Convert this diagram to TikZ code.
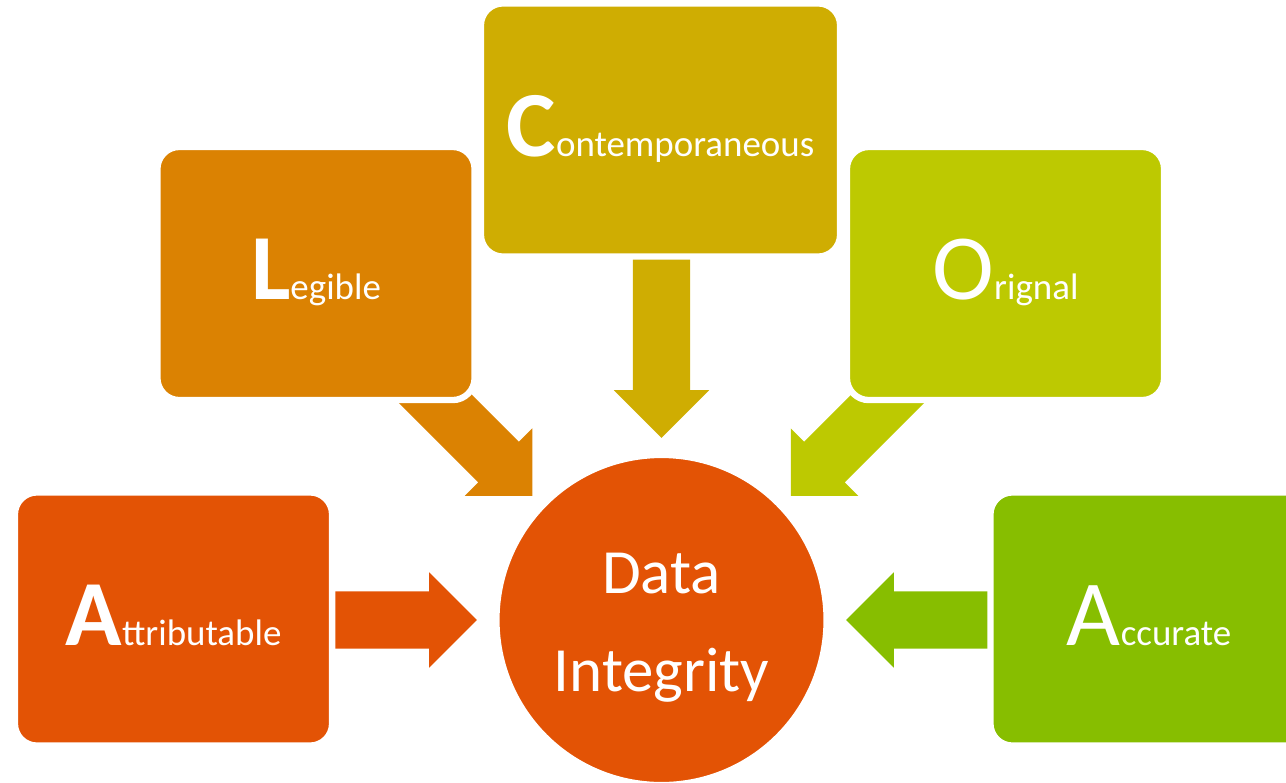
\documentclass[tikz,border=0pt]{standalone}
\usepackage{fontspec}
\setmainfont{Carlito}
\usepackage{tikz}
\usetikzlibrary{shapes.arrows,calc}

\definecolor{colAttr}{HTML}{E35305}
\definecolor{colLeg}{HTML}{DB8202}
\definecolor{colCon}{HTML}{CFAD02}
\definecolor{colOri}{HTML}{BDC901}
\definecolor{colAcc}{HTML}{87BE00}

\pgfdeclarelayer{back}
\pgfsetlayers{back,main}

\newcommand{\capb}[1]{{\fontsize{26.5}{30}\selectfont\bfseries #1}}
\newcommand{\capr}[1]{{\fontsize{26.5}{30}\selectfont #1}}

\tikzset{
  letterbox/.style={rectangle, rounded corners=0.22cm, draw=white, line width=1.8pt,
    minimum width=3.17cm, minimum height=2.53cm, inner sep=0pt, outer sep=0pt,
    text=white, text height=0.52cm, text depth=0pt,
    font=\fontsize{10.5}{12}\selectfont},
  blockarrow/.style={single arrow, draw=none, inner sep=0pt, outer sep=0pt,
    text height=0.56cm, text depth=0pt, single arrow head extend=0.19cm,
    single arrow tip angle=90, minimum height=#1}
}

\begin{document}
\begin{tikzpicture}[x=0.01cm,y=-0.01cm]

	\useasboundingbox (0,0) rectangle (1286,782);

	% letter boxes

	\node[letterbox, fill=colAttr] (attr) at (173.5,619) {\capb{A}ttributable};
	\node[letterbox, fill=colLeg] (leg) at (316,273.5) {\capb{L}egible};
	\node[letterbox, fill=colCon, minimum width=3.59cm] (con) at (660.5,130) {\capb{C}ontemporaneous};
	\node[letterbox, fill=colOri] (ori) at (1005.5,273.5) {\capr{O}rignal};
	\node[letterbox, fill=colAcc] (acc) at (1149,619) {\capr{A}ccurate};

	% centre circle

	\node[circle, fill=colAttr, draw=white, line width=1.8pt, minimum size=3.30cm,
	  inner sep=0pt, outer sep=0pt, text=white, align=center,
	  font=\fontsize{17.9}{27.9}\selectfont] (data) at (661.5,620) {\rule{0pt}{16pt}Data\\Integrity};

	% block arrows into the circle

	\begin{pgfonlayer}{back}
	\node[blockarrow=1.80cm, fill=colAttr, anchor=tip] (arrAttr) at ($(data.west)+(-19.5,0)$) {};
	\node[blockarrow=2.00cm, fill=colLeg, anchor=tip, rotate=-45] (arrLeg) at ($(data.135)+(-12.5,-7.5)$) {};
	\node[blockarrow=2.10cm, fill=colCon, anchor=tip, rotate=-90] (arrCon) at ($(data.north)+(0,-17)$) {};
	\node[blockarrow=2.00cm, fill=colOri, anchor=tip, rotate=-135] (arrOri) at ($(data.45)+(12.5,-7.5)$) {};
	\node[blockarrow=1.80cm, fill=colAcc, anchor=tip, rotate=180] (arrAcc) at ($(data.east)+(19.5,0)$) {};
	\end{pgfonlayer}

\end{tikzpicture}
\end{document}
